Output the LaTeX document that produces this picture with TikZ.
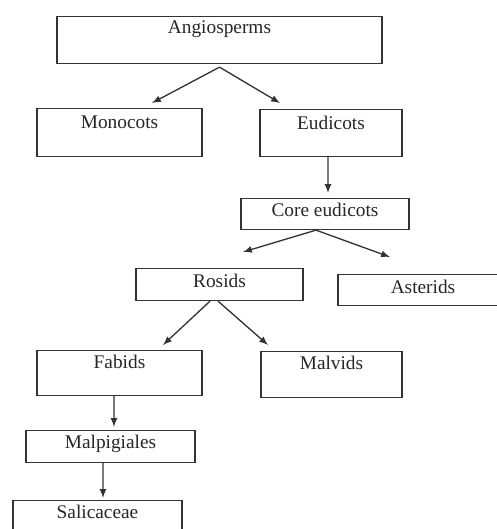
\documentclass[tikz,border=0pt]{standalone}
\usepackage{fontspec}
\setmainfont{Liberation Serif}
\usepackage{tikz}
\usetikzlibrary{arrows,positioning}

\begin{document}
\begin{tikzpicture}[x=0.02cm, y=-0.02cm,
        box/.style={rectangle, draw=black!80, line width=0.65pt, inner sep=0pt, anchor=north, text=black!85, font=\fontsize{11}{13}\selectfont},
        arr/.style={-latex, line width=0.75pt, draw=black!80},
    ]
        \useasboundingbox (0,0) rectangle (497,529);

        % Top level
        \node[box, minimum width=6.5cm, text height=0.34cm, text depth=0.60cm] (angio) at (219.5,16) {Angiosperms};
        \node[box, minimum width=3.3cm, text height=0.40cm, text depth=0.56cm] (mono) at (119.5,108) {Monocots};
        \node[box, minimum width=2.84cm, text height=0.40cm, text depth=0.54cm] (eudi) at (331,109) {Eudicots};
        \draw[arr] ([yshift=-0.06cm]angio.south) -- ([xshift=0.65cm, yshift=0.1cm]mono.north);
        \draw[arr] ([yshift=-0.06cm]angio.south) -- ([xshift=-1.02cm, yshift=0.12cm]eudi.north);

        % Core eudicots
        \node[box, minimum width=3.36cm, text height=0.36cm, text depth=0.26cm] (core_eu) at (325,198) {Core eudicots};
        \draw[arr] ([xshift=-0.06cm]eudi.south) -- ([xshift=0.06cm, yshift=0.1cm]core_eu.north);
        \node[box, minimum width=3.34cm, text height=0.38cm, text depth=0.26cm] (rosids) at (219.5,268) {Rosids};
        \node[box, minimum width=3.4cm, text height=0.37cm, text depth=0.25cm] (asterids) at (423,274) {Asterids};
        \draw[arr] ([xshift=-0.18cm]core_eu.south) -- ([xshift=0.47cm, yshift=0.32cm]rosids.north);
        \draw[arr] ([xshift=-0.18cm]core_eu.south) -- ([xshift=-0.66cm, yshift=0.34cm]asterids.north);

        % Rosids
        \node[box, minimum width=3.3cm, text height=0.36cm, text depth=0.54cm] (fabids) at (119.5,350) {Fabids};
        \node[box, minimum width=2.82cm, text height=0.36cm, text depth=0.56cm] (malvids) at (331.5,351) {Malvids};
        \draw[arr] ([xshift=-0.19cm]rosids.south) -- ([xshift=0.87cm, yshift=0.1cm]fabids.north);
        \draw[arr] ([xshift=-0.03cm]rosids.south) -- ([xshift=-1.27cm, yshift=0.12cm]malvids.north);

        % Fabids down
        \node[box, minimum width=3.38cm, text height=0.36cm, text depth=0.28cm] (malpig) at (110.5,430) {Malpigiales};
        \node[box, minimum width=3.38cm, text height=0.36cm, text depth=0.40cm] (salic) at (97.5,500) {Salicaceae};
        \draw[arr] ([xshift=-0.11cm]fabids.south) -- ([xshift=0.07cm, yshift=0.06cm]malpig.north);
        \draw[arr] ([xshift=-0.15cm]malpig.south) -- ([xshift=0.11cm, yshift=0.04cm]salic.north);
    \end{tikzpicture}
\end{document}
